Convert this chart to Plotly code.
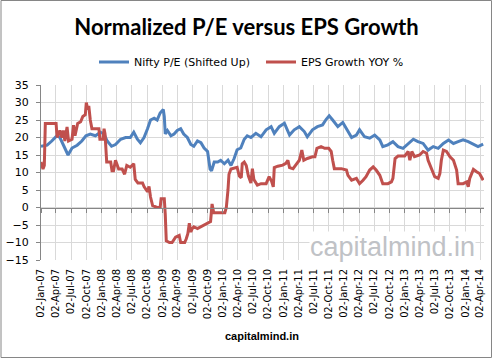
import plotly.graph_objects as go

TITLE = "Normalized P/E versus EPS Growth"
SERIES_NAMES = ["Nifty P/E (Shifted Up)", "EPS Growth YOY %"]
Y_TICKS = [-15, -10, -5, 0, 5, 10, 15, 20, 25, 30, 35]

pe_dates = [
    "2007-01-02", "2007-02-08", "2007-03-08", "2007-04-08", "2007-04-26", "2007-05-17",
    "2007-06-02", "2007-06-14", "2007-07-08", "2007-08-08", "2007-09-05", "2007-09-30",
    "2007-10-26", "2007-11-26", "2007-12-26", "2008-01-17", "2008-02-05", "2008-03-02",
    "2008-03-26", "2008-04-26", "2008-05-26", "2008-06-23", "2008-07-14", "2008-08-05",
    "2008-08-23", "2008-09-14", "2008-10-05", "2008-10-23", "2008-11-14", "2008-12-02",
    "2008-12-20", "2009-01-08", "2009-01-14", "2009-01-20", "2009-02-02", "2009-02-23",
    "2009-03-14", "2009-04-02", "2009-04-23", "2009-05-11", "2009-06-02", "2009-06-23",
    "2009-07-11", "2009-08-02", "2009-08-23", "2009-09-11", "2009-10-02", "2009-10-17",
    "2009-10-26", "2009-11-11", "2009-12-02", "2009-12-20", "2010-01-11", "2010-02-02",
    "2010-02-20", "2010-03-11", "2010-03-29", "2010-04-20", "2010-05-11", "2010-05-29",
    "2010-06-20", "2010-07-20", "2010-08-20", "2010-09-20", "2010-10-20", "2010-11-08",
    "2010-12-08", "2011-01-08", "2011-02-08", "2011-03-08", "2011-04-08", "2011-05-08",
    "2011-05-26", "2011-06-26", "2011-07-26", "2011-08-26", "2011-09-17", "2011-10-05",
    "2011-10-26", "2011-11-26", "2011-12-26", "2012-01-26", "2012-02-17", "2012-03-17",
    "2012-04-05", "2012-05-05", "2012-06-05", "2012-07-05", "2012-08-05", "2012-08-23",
    "2012-09-23", "2012-10-23", "2012-11-23", "2012-12-23", "2013-01-23", "2013-02-23",
    "2013-03-23", "2013-04-23", "2013-05-23", "2013-06-23", "2013-07-23", "2013-08-23",
    "2013-09-23", "2013-10-23", "2013-11-20", "2013-12-20", "2014-01-20", "2014-02-20",
    "2014-03-20", "2014-04-20",
]
pe_values = [
    17.5, 17.8, 19.0, 20.5, 20.0, 18.0,
    16.5, 15.0, 17.0, 17.8, 19.0, 20.5,
    21.0, 20.5, 21.5, 21.0, 19.0, 17.5,
    18.0, 19.5, 20.0, 20.0, 21.5, 19.5,
    18.5, 20.0, 22.5, 25.0, 25.5, 25.0,
    27.0, 28.0, 26.0, 21.0, 22.0, 20.5,
    21.0, 22.0, 22.5, 21.0, 20.0, 18.0,
    17.5, 19.0, 18.5, 17.0, 16.0, 11.0,
    10.5, 13.0, 13.0, 13.5, 12.5, 13.5,
    12.0, 14.0, 16.5, 17.0, 19.5, 20.5,
    20.0, 21.2, 20.2, 22.2, 23.1, 21.2,
    23.1, 24.1, 20.7, 22.2, 23.1, 21.7,
    20.2, 22.2, 23.1, 23.6, 25.2, 26.2,
    25.0, 23.1, 24.3, 21.7, 20.0, 20.7,
    22.2, 20.2, 19.8, 20.7, 19.3, 17.4,
    17.9, 18.8, 17.4, 16.9, 18.3, 19.5,
    18.8, 18.3, 16.4, 17.4, 16.9, 18.3,
    19.3, 18.3, 18.8, 19.3, 18.8, 18.1,
    17.4, 18.1,
]

eps_dates = [
    "2007-01-02", "2007-01-14", "2007-01-22", "2007-01-28", "2007-04-03", "2007-04-09",
    "2007-04-26", "2007-05-08", "2007-05-17", "2007-05-26", "2007-06-08", "2007-06-17",
    "2007-07-08", "2007-07-17", "2007-07-26", "2007-08-11", "2007-08-29", "2007-09-11",
    "2007-09-26", "2007-10-02", "2007-10-11", "2007-10-17", "2007-10-26", "2007-11-05",
    "2007-12-17", "2007-12-23", "2008-01-11", "2008-01-17", "2008-01-23", "2008-02-02",
    "2008-02-26", "2008-03-05", "2008-03-14", "2008-03-26", "2008-04-14", "2008-05-05",
    "2008-05-20", "2008-06-02", "2008-06-23", "2008-07-14", "2008-07-23", "2008-08-08",
    "2008-09-05", "2008-09-14", "2008-10-05", "2008-10-14", "2008-10-23", "2008-11-05",
    "2008-12-02", "2008-12-20", "2008-12-26", "2009-01-14", "2009-01-20", "2009-01-26",
    "2009-02-14", "2009-03-02", "2009-03-23", "2009-04-14", "2009-04-23", "2009-05-17",
    "2009-05-26", "2009-06-05", "2009-06-14", "2009-06-23", "2009-07-02", "2009-07-11",
    "2009-08-02", "2009-08-23", "2009-09-11", "2009-10-02", "2009-10-20", "2009-10-29",
    "2009-11-08", "2010-01-14", "2010-01-23", "2010-02-02", "2010-02-08", "2010-02-20",
    "2010-03-29", "2010-04-11", "2010-04-23", "2010-04-29", "2010-05-11", "2010-05-23",
    "2010-06-05", "2010-06-20", "2010-06-29", "2010-07-08", "2010-07-29", "2010-08-20",
    "2010-09-20", "2010-10-08", "2010-10-23", "2010-11-02", "2010-11-08", "2010-11-29",
    "2010-12-29", "2011-01-17", "2011-01-29", "2011-02-08", "2011-03-01", "2011-03-17",
    "2011-04-08", "2011-04-23", "2011-05-05", "2011-05-26", "2011-06-26", "2011-07-11",
    "2011-07-23", "2011-08-17", "2011-09-08", "2011-10-02", "2011-10-17", "2011-10-26",
    "2011-11-05", "2011-12-17", "2012-01-17", "2012-01-26", "2012-02-17", "2012-03-17",
    "2012-04-05", "2012-04-26", "2012-05-14", "2012-06-05", "2012-06-26", "2012-07-14",
    "2012-08-05", "2012-08-23", "2012-09-23", "2012-10-14", "2012-10-23", "2012-11-05",
    "2012-11-23", "2013-01-02", "2013-01-23", "2013-02-02", "2013-02-14", "2013-03-02",
    "2013-04-02", "2013-04-23", "2013-05-14", "2013-05-23", "2013-06-14", "2013-07-02",
    "2013-07-23", "2013-08-02", "2013-08-11", "2013-08-23", "2013-09-11", "2013-10-02",
    "2013-10-23", "2013-11-11", "2013-11-20", "2013-12-20", "2014-01-11", "2014-01-20",
    "2014-01-29", "2014-02-20", "2014-03-11", "2014-03-29", "2014-04-20",
]
eps_values = [
    13.0, 11.0, 12.0, 24.0, 24.0, 20.0,
    22.0, 20.0, 22.0, 19.0, 23.0, 19.0,
    19.5, 23.5, 20.5, 24.0, 24.5, 26.0,
    26.5, 30.0, 28.0, 29.0, 25.0, 22.5,
    22.5, 19.5, 19.5, 22.5, 21.0, 13.0,
    13.0, 10.5, 10.5, 13.5, 11.0, 11.0,
    9.5, 12.0, 11.5, 12.5, 8.0, 7.0,
    7.0, 6.0, 4.5, 6.0, 3.0, 0.5,
    0.0, 0.0, 2.5, 2.5, -2.0, -9.5,
    -10.0, -10.0, -8.5, -8.0, -10.0, -10.0,
    -9.0, -7.5, -4.5, -7.0, -6.0, -5.5,
    -6.0, -5.5, -5.0, -4.5, -4.0, 1.0,
    -1.5, -1.5, 0.0, 5.0, 9.5, 11.0,
    11.5, 9.0, 8.5, 12.5, 13.0, 12.0,
    9.0, 7.0, 11.1, 8.0, 6.4, 6.8,
    6.8, 8.8, 7.5, 5.9, 11.4, 11.8,
    12.1, 12.6, 13.5, 11.4, 11.1, 12.1,
    13.5, 16.4, 13.5, 14.0, 14.5, 14.5,
    16.9, 17.4, 16.9, 16.9, 16.0, 13.5,
    11.1, 11.1, 10.7, 9.2, 7.8, 8.3,
    6.8, 7.8, 8.8, 10.7, 11.6, 10.7,
    9.2, 6.8, 6.8, 7.3, 8.3, 14.0,
    14.7, 14.7, 16.0, 13.5, 16.0, 14.5,
    15.0, 16.0, 15.5, 13.5, 10.7, 8.8,
    8.3, 9.7, 13.5, 16.4, 16.0, 14.5,
    13.5, 10.7, 6.8, 6.8, 7.3, 5.9,
    8.3, 10.9, 10.2, 9.7, 7.8,
]

X_START = "2007-01-02"
X_END = "2014-04-25"

AX = "#868686"
GRID = "#d9d9d9"
FONT = "DejaVu Sans"

fig = go.Figure()
fig.add_trace(go.Scatter(x=pe_dates, y=pe_values, mode="lines", name=SERIES_NAMES[0],
                         line=dict(color="#4f81bd", width=3)))
fig.add_trace(go.Scatter(x=eps_dates, y=eps_values, mode="lines", name=SERIES_NAMES[1],
                         line=dict(color="#c0504d", width=3)))

# empty trace on the overlay axis so that the axis line at y = 0 (with ticks) is drawn
fig.add_trace(go.Scatter(x=[X_START], y=[None], xaxis="x2", showlegend=False,
                         hoverinfo="skip"))

ymin, ymax = Y_TICKS[0], Y_TICKS[-1]

fig.update_layout(
    width=493, height=359,
    margin=dict(l=41, r=9, t=85, b=99, autoexpand=False),
    paper_bgcolor="white", plot_bgcolor="white",
    title=dict(text="<b>" + TITLE + "</b>", x=0.5, xref="container", xanchor="center",
               y=1 - 27 / 359, yanchor="middle", yref="container",
               font=dict(family="Lato", size=22, color="black")),
    legend=dict(orientation="h", x=(94 - 41) / 443, xanchor="left", y=1.131, yanchor="middle",
                font=dict(family=FONT, size=11, color="#000"), itemwidth=30,
                entrywidth=122, entrywidthmode="pixels",
                bgcolor="rgba(0,0,0,0)", traceorder="normal"),
    showlegend=True,
    xaxis=dict(type="date", range=[X_START, X_END], tick0=X_START, dtick="M3",
               tickformat="%d-%b-%y", tickangle=-90, showgrid=True, gridcolor=GRID,
               gridwidth=1, showline=False, zeroline=False, ticks="",
               automargin=False, ticklabelstandoff=6,
               tickfont=dict(family=FONT, size=10, color="#000")),
    xaxis2=dict(type="date", range=[X_START, X_END], tick0=X_START, dtick="M3",
                overlaying="x", anchor="free", position=(0 - ymin) / (ymax - ymin),
                showticklabels=False, showgrid=False, showline=True, linecolor=AX,
                linewidth=1, ticks="outside", ticklen=4, tickcolor=AX, zeroline=False),
    yaxis=dict(range=[ymin, ymax], tickvals=Y_TICKS, showgrid=True, gridcolor=GRID,
               gridwidth=1, showline=True, linecolor=AX, linewidth=1, ticks="outside",
               ticklen=4, tickcolor=AX, zeroline=False, automargin=False,
               ticklabelstandoff=5,
               tickfont=dict(family=FONT, size=11, color="#000")),
    shapes=[dict(type="rect", xref="paper", yref="paper",
                 x0=(1 - 41) / 443, x1=(491.5 - 41) / 443,
                 y0=(260 - 357.5) / 175, y1=(260 - 0.5) / 175,
                 line=dict(color="#868686", width=1), fillcolor="rgba(0,0,0,0)",
                 layer="below")],
    annotations=[
        dict(text="capitalmind.in", xref="paper", yref="paper",
             x=(392 - 41) / 443, y=(260 - 247) / 175, xanchor="center", yanchor="middle",
             showarrow=False, bgcolor="white", borderpad=0,
             font=dict(family="Liberation Sans", size=27, color="#c0c2c6")),
        dict(text="<b>capitalmind.in</b>", xref="paper", yref="paper",
             x=(261.5 - 41) / 443, y=(260 - 336) / 175, xanchor="center", yanchor="middle",
             showarrow=False, font=dict(family="Liberation Sans", size=11, color="black")),
    ],
)

fig.write_html("out.html", config={"displayModeBar": False},
               post_script="document.body.style.margin='0';")
